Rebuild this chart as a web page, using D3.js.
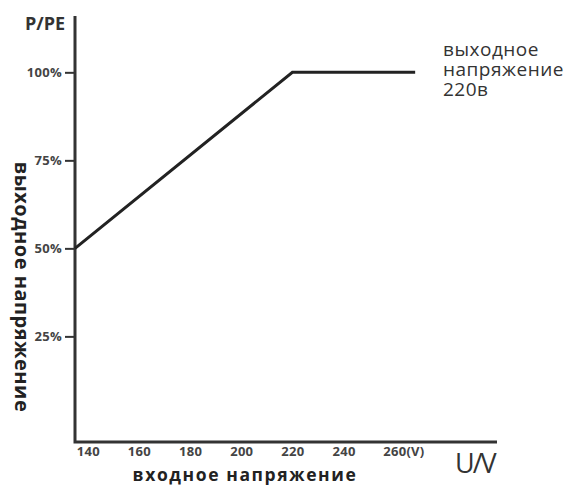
<!DOCTYPE html>
<html>
<head>
<meta charset="utf-8">
<script src="https://cdn.jsdelivr.net/npm/d3@7"></script>
<style>
  body { margin: 0; background: #fff; }
  text { font-family: "Open Sans", sans-serif; }
</style>
</head>
<body>
<div class="chart"></div>
<script>
var voltage = [135, 220, 268];
var power = [50, 100, 100];
var xTicks = [140, 160, 180, 200, 220, 240, 260];
var yTicks = [25, 50, 75, 100];
var noteLines = ["выходное", "напряжение", "220в"];

var svg = d3.select(".chart")
    .append("svg")
    .attr("width", 572)
    .attr("height", 486)

var x = d3.scaleLinear().domain([135, 300]).range([75, 497])
var y = d3.scaleLinear().domain([-5, 116]).range([442, 16])

// y axis with small ticks on the left
var yAxis = svg.append("g")
    .attr("transform", "translate(75,0)")
    .call(d3.axisLeft(y).tickValues(yTicks).tickSize(10).tickPadding(3)
        .tickFormat(function (d) { return d + "%" }))
yAxis.select(".domain").remove()
yAxis.selectAll(".tick line").style("stroke", "#333").style("stroke-width", 2)
yAxis.selectAll(".tick text")
    .style("font-size", "13px")
    .style("font-weight", "bold")
    .style("letter-spacing", "0.3px")
    .attr("fill", "#444")

// x axis labels, no tick marks
var xAxis = svg.append("g")
    .attr("transform", "translate(0,442)")
    .call(d3.axisBottom(x).tickValues(xTicks).tickSize(0).tickPadding(5)
        .tickFormat(function (d, i) { return i == xTicks.length - 1 ? d + "(V)" : d }))
xAxis.select(".domain").remove()
xAxis.selectAll(".tick text")
    .style("font-size", "13px")
    .style("font-weight", "bold")
    .style("letter-spacing", "0.3px")
    .attr("fill", "#444")
xAxis.selectAll(".tick text")
    .filter(function (d, i) { return i == xTicks.length - 1 })
    .attr("text-anchor", "start")
    .attr("dx", -12)

// axis lines
svg.append("path")
    .attr("d", "M" + x(135) + "," + y(116) + "V" + y(-5) + "H" + x(300))
    .attr("fill", "none")
    .style("stroke", "#333")
    .style("stroke-width", 3)

var pts = voltage.map(function (v, i) { return [v, power[i]] })
svg.append("path")
    .datum(pts)
    .attr("d", d3.line().x(function (d) { return x(d[0]) }).y(function (d) { return y(d[1]) }))
    .attr("fill", "none")
    .style("stroke", "#222")
    .style("stroke-width", 3)

svg.append("text")
    .attr("x", 25)
    .attr("y", 30)
    .text("P/PE")
    .style("font-size", "18px")
    .style("font-weight", "bold")
    .attr("fill", "#333")

svg.append("text")
    .attr("transform", "translate(15,287) rotate(90)")
    .attr("text-anchor", "middle")
    .text("выходное напряжение")
    .style("font-size", "20px")
    .style("font-weight", "bold")
    .style("letter-spacing", "0.5px")
    .attr("fill", "#222")

svg.append("text")
    .attr("x", 245)
    .attr("y", 480.5)
    .attr("text-anchor", "middle")
    .text("входное напряжение")
    .style("font-size", "17.5px")
    .style("font-weight", "bold")
    .style("letter-spacing", "1.6px")
    .attr("fill", "#222")

svg.append("text")
    .attr("x", 455)
    .attr("y", 473)
    .text("U/V")
    .style("font-size", "27px")
    .style("letter-spacing", "-2px")
    .attr("fill", "#333")

// three-line note as one text block
var note = svg.append("text")
    .attr("x", 443)
    .attr("y", 56)
    .style("font-size", "19px")
    .style("letter-spacing", "0.5px")
    .attr("fill", "#333")
note.selectAll("tspan")
    .data(noteLines)
    .enter()
    .append("tspan")
    .attr("x", 443)
    .attr("dy", function (d, i) { return i == 0 ? 0 : 20 })
    .text(function (d) { return d })
</script>
</body>
</html>
